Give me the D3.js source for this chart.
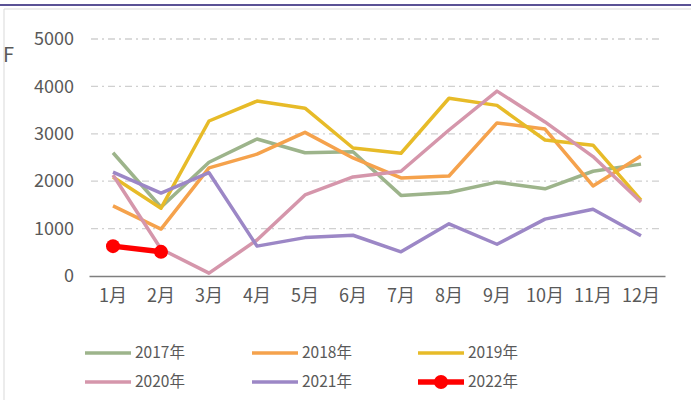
<!DOCTYPE html>
<html>
<meta charset="utf-8">
<head>
    <style>
        body { margin: 0; background: #fff; }
        .axis text { font: 18px "Noto Sans CJK SC", sans-serif; fill: #595959; }
        .legend text { font: 15.5px "Noto Sans CJK SC", sans-serif; fill: #595959; }
    </style>
</head>
<body>
    <div id="chart"></div>
    <script src="https://d3js.org/d3.v7.min.js"></script>
    <script>
        // data
        const months = ["1月", "2月", "3月", "4月", "5月", "6月", "7月", "8月", "9月", "10月", "11月", "12月"];
        const yTicks = [0, 1000, 2000, 3000, 4000, 5000];
        const y2017 = [2600, 1450, 2400, 2890, 2600, 2620, 1700, 1760, 1980, 1840, 2210, 2360];
        const y2018 = [1480, 990, 2280, 2570, 3030, 2490, 2070, 2110, 3230, 3100, 1900, 2530];
        const y2019 = [2090, 1430, 3270, 3690, 3540, 2700, 2590, 3750, 3600, 2870, 2760, 1600];
        const y2020 = [2130, 570, 60, 760, 1710, 2090, 2210, 3080, 3900, 3250, 2520, 1560];
        const y2021 = [2190, 1750, 2180, 630, 810, 860, 510, 1100, 670, 1200, 1410, 850];
        const y2022 = [630, 510];

        const series = [
            { name: "2017年", values: y2017, color: "#9db48b" },
            { name: "2018年", values: y2018, color: "#f5a24c" },
            { name: "2019年", values: y2019, color: "#e7bb28" },
            { name: "2020年", values: y2020, color: "#d596ab" },
            { name: "2021年", values: y2021, color: "#9c87c6" },
            { name: "2022年", values: y2022, color: "#ff0000", marker: true }
        ];

        var W = 691, H = 400;
        var margin = { top: 39, left: 89, right: 26 },
            width = W - margin.left - margin.right,
            height = 276 - margin.top;

        var svg = d3.select("#chart").append("svg")
            .attr("width", W).attr("height", H);

        // frame
        svg.append("line").attr("x1", 0).attr("x2", W).attr("y1", 5).attr("y2", 5)
            .attr("stroke", "#5a5295").attr("stroke-width", 2);
        svg.append("line").attr("x1", 4).attr("x2", W).attr("y1", 9).attr("y2", 9)
            .attr("stroke", "#d9d9d9").attr("stroke-width", 1);
        svg.append("line").attr("x1", 4).attr("x2", 4).attr("y1", 9).attr("y2", H)
            .attr("stroke", "#d9d9d9").attr("stroke-width", 1);
        svg.append("text").attr("x", 3).attr("y", 62).text("F")
            .style("font", "20px 'Noto Sans CJK SC', sans-serif").attr("fill", "#595959");

        var g = svg.append("g")
            .attr("transform", "translate(" + margin.left + "," + margin.top + ")");

        var x = d3.scaleBand().domain(months).range([0, width]);
        var y = d3.scaleLinear().domain([0, 5000]).range([height, 0]);

        // gridlines
        g.selectAll(".grid")
            .data(yTicks.filter(function (d) { return d > 0; }))
            .join("line")
            .attr("x1", 2).attr("x2", width - 2)
            .attr("y1", function (d) { return y(d); })
            .attr("y2", function (d) { return y(d); })
            .attr("stroke", "#d0d0d0")
            .attr("stroke-width", 1.3)
            .attr("stroke-dasharray", "7,4,2,4");

        // y axis (labels only)
        var yAxis = g.append("g").attr("class", "axis")
            .call(d3.axisLeft(y).tickValues(yTicks).tickFormat(d3.format("d")).tickSize(0).tickPadding(15));
        yAxis.select(".domain").remove();

        // x axis
        var xAxis = g.append("g").attr("class", "axis")
            .attr("transform", "translate(0," + height + ")")
            .call(d3.axisBottom(x).tickSize(0).tickPadding(13));
        xAxis.select(".domain").attr("stroke", "#7f7f7f").attr("stroke-width", 1.5);

        var line = d3.line()
            .x(function (d, i) { return x(months[i]) + x.bandwidth() / 2; })
            .y(function (d) { return y(d); });

        series.forEach(function (s) {
            g.append("path")
                .attr("d", line(s.values))
                .attr("fill", "none")
                .attr("stroke", s.color)
                .attr("stroke-width", s.marker ? 5.5 : 3.5)
                .attr("stroke-linejoin", "round");
            if (s.marker) {
                g.selectAll(".dot")
                    .data(s.values)
                    .join("circle")
                    .attr("cx", function (d, i) { return x(months[i]) + x.bandwidth() / 2; })
                    .attr("cy", function (d) { return y(d); })
                    .attr("r", 7)
                    .attr("fill", s.color);
            }
        });

        // legend
        var legend = svg.append("g").attr("class", "legend");
        var colX = [85, 252, 418], rowY = [353, 382];
        series.forEach(function (s, i) {
            var lx = colX[i % 3], ly = rowY[Math.floor(i / 3)];
            var item = legend.append("g");
            item.append("line")
                .attr("x1", lx).attr("x2", lx + 46)
                .attr("y1", ly).attr("y2", ly)
                .attr("stroke", s.color)
                .attr("stroke-width", s.marker ? 5.5 : 3.5);
            if (s.marker) {
                item.append("circle").attr("cx", lx + 23).attr("cy", ly).attr("r", 7).attr("fill", s.color);
            }
            item.append("text")
                .attr("x", lx + 50).attr("y", ly)
                .attr("dy", "0.35em")
                .text(s.name);
        });
    </script>
</body>
</html>
